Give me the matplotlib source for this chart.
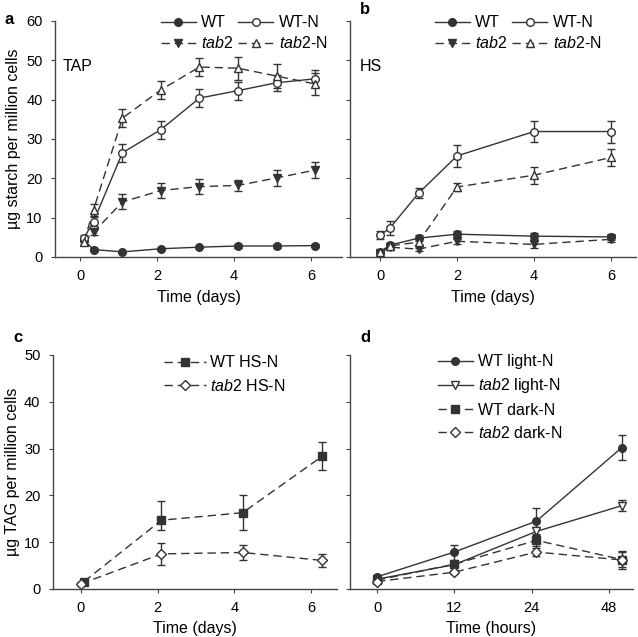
import numpy as np
import matplotlib
matplotlib.use('Agg')
import matplotlib.pyplot as plt

plt.rcParams['font.family'] = ['Liberation Sans', 'DejaVu Sans']
plt.rcParams['mathtext.fontset'] = 'custom'
plt.rcParams['mathtext.it'] = 'Liberation Sans:italic'
plt.rcParams['mathtext.rm'] = 'Liberation Sans'
plt.rcParams['font.size'] = 10

# Panel a (TAP) - starch
a_x = [0.1, 0.35, 1.1, 2.1, 3.1, 4.1, 5.1, 6.1]
a_wt = [4.3, 1.9, 1.3, 2.1, 2.5, 2.8, 2.8, 2.9]
a_wt_err = [0.5, 0.4, 0.3, 0.3, 0.3, 0.4, 0.4, 0.4]
a_wtn = [4.8, 9.0, 26.5, 32.4, 40.4, 42.3, 44.3, 45.3]
a_wtn_err = [0.8, 1.2, 2.3, 2.3, 2.3, 2.3, 2.0, 2.2]
a_tab2 = [3.7, 6.3, 14.0, 16.9, 17.9, 18.2, 20.1, 22.1]
a_tab2_err = [0.6, 0.8, 1.9, 1.9, 1.9, 1.3, 2.0, 2.0]
a_tab2n = [3.8, 12.0, 35.3, 42.5, 48.3, 48.0, 46.0, 44.0]
a_tab2n_err = [0.8, 1.6, 2.3, 2.3, 2.3, 2.9, 3.0, 2.9]

# Panel b (HS) - starch
b_x = [0, 0.25, 1, 2, 4, 6]
b_wt = [1.2, 3.0, 4.8, 5.8, 5.3, 5.1]
b_wt_err = [0.4, 0.6, 0.7, 0.7, 0.7, 0.7]
b_wtn = [5.5, 7.3, 16.2, 25.7, 31.9, 31.9]
b_wtn_err = [1.0, 1.8, 1.3, 2.8, 2.6, 2.8]
b_tab2 = [1.1, 2.5, 2.0, 4.0, 3.2, 4.5]
b_tab2_err = [0.3, 0.8, 0.4, 0.6, 1.0, 0.8]
b_tab2n = [1.3, 2.8, 3.8, 17.8, 20.8, 25.3]
b_tab2n_err = [0.4, 0.8, 0.8, 1.0, 2.2, 2.2]

# Panel c - TAG, HS-N
c_x_wt = [0.08, 2.1, 4.22, 6.3]
c_x_tab2 = [0.0, 2.1, 4.22, 6.3]
c_wt = [1.6, 14.7, 16.3, 28.4]
c_wt_lo = [0.5, 2.0, 3.7, 3.0]
c_wt_hi = [0.5, 4.2, 3.7, 3.0]
c_tab2 = [1.1, 7.5, 7.8, 6.1]
c_tab2_err = [0.4, 2.3, 1.7, 1.3]

# Panel d - TAG, light/dark
d_hours = [0, 12, 25.5, 52]
d_ticks = [0, 12, 24, 48]
d_wt_light = [2.6, 7.9, 14.5, 30.2]
d_wt_light_err = [0.4, 1.6, 2.8, 2.6]
d_tab2_light = [2.1, 5.2, 12.3, 17.8]
d_tab2_light_err = [0.3, 0.6, 1.0, 1.2]
d_wt_dark = [1.9, 5.3, 10.4, 6.3]
d_wt_dark_err = [0.3, 0.6, 1.2, 1.5]
d_tab2_dark = [1.6, 3.6, 7.9, 6.2]
d_tab2_dark_err = [0.3, 0.5, 0.8, 2.0]

col = '#333333'
dash = (0, (6, 3.5))
tick_fs = 10.5
label_fs = 11.5
leg_fs = 11.5

fig = plt.figure(figsize=(6.38, 6.37), dpi=100)
W, H = 638, 637


def make_ax(x0, x1, ytop, ybot):
    ax = fig.add_axes([x0 / W, 1 - ybot / H, (x1 - x0) / W, (ybot - ytop) / H])
    for s in ['top', 'right']:
        ax.spines[s].set_visible(False)
    for s in ['left', 'bottom']:
        ax.spines[s].set_color('#444444')
        ax.spines[s].set_linewidth(1.0)
    ax.tick_params(direction='out', length=3, width=0.8, color='#444444', labelsize=tick_fs, pad=6)
    return ax


def series(ax, x, y, err, marker, filled, ls, label, ms=5.5):
    fc = col if filled else 'white'
    ax.errorbar(x, y, yerr=err, color=col, ls=ls, lw=1.0, marker=marker, ms=ms,
                mfc=fc, mec=col, mew=1.0, capsize=3, elinewidth=1.0, capthick=1.0,
                label=label)


def clean_legend(ax, **kw):
    h, l = ax.get_legend_handles_labels()
    h = [hh[0] for hh in h]
    leg = ax.legend(h, l, frameon=False, fontsize=leg_fs, **kw)
    return leg


# ---- a ----
ax = make_ax(55, 342, 21, 257)
series(ax, a_x, a_wt, a_wt_err, 'o', True, '-', 'WT')
series(ax, a_x, a_tab2, a_tab2_err, 'v', True, dash, '$\\it{tab2}$')
series(ax, a_x, a_wtn, a_wtn_err, 'o', False, '-', 'WT-N')
series(ax, a_x, a_tab2n, a_tab2n_err, '^', False, dash, '$\\it{tab2}$-N')
ax.set_xlim(-0.65, 6.8)
ax.set_ylim(0, 60)
ax.set_xticks([0, 2, 4, 6])
ax.set_yticks(range(0, 61, 10))
ax.set_xlabel('Time (days)', fontsize=label_fs, labelpad=5)
ax.set_ylabel('µg starch per million cells', fontsize=label_fs, labelpad=4)
ax.text(0.025, 0.79, 'TAP', transform=ax.transAxes, fontsize=label_fs)
clean_legend(ax, ncol=2, loc='upper right', bbox_to_anchor=(1.0, 1.085),
             handlelength=2.2, handletextpad=0.35, columnspacing=0.3, labelspacing=0.3)
fig.text(5 / W, 1 - 20 / H, 'a', fontsize=12, fontweight='bold', va='center')

# ---- b ----
ax = make_ax(350, 636, 21, 257)
series(ax, b_x, b_wt, b_wt_err, 'o', True, '-', 'WT')
series(ax, b_x, b_tab2, b_tab2_err, 'v', True, dash, '$\\it{tab2}$')
series(ax, b_x, b_wtn, b_wtn_err, 'o', False, '-', 'WT-N')
series(ax, b_x, b_tab2n, b_tab2n_err, '^', False, dash, '$\\it{tab2}$-N')
ax.set_xlim(-0.78, 6.65)
ax.set_ylim(0, 60)
ax.set_xticks([0, 2, 4, 6])
ax.set_yticks(range(0, 61, 10))
ax.set_yticklabels([])
ax.set_xlabel('Time (days)', fontsize=label_fs, labelpad=5)
ax.text(0.035, 0.79, 'HS', transform=ax.transAxes, fontsize=label_fs)
clean_legend(ax, ncol=2, loc='upper right', bbox_to_anchor=(0.93, 1.085),
             handlelength=2.2, handletextpad=0.35, columnspacing=0.3, labelspacing=0.3)
fig.text(360 / W, 1 - 10 / H, 'b', fontsize=12, fontweight='bold', va='center')

# ---- c ----
ax = make_ax(53, 337, 355, 589)
series(ax, c_x_wt, c_wt, [c_wt_lo, c_wt_hi], 's', True, dash, 'WT HS-N')
series(ax, c_x_tab2, c_tab2, c_tab2_err, 'D', False, dash, '$\\it{tab2}$ HS-N', ms=5)
ax.set_xlim(-0.73, 6.68)
ax.set_ylim(0, 50)
ax.set_xticks([0, 2, 4, 6])
ax.set_yticks(range(0, 51, 10))
ax.set_xlabel('Time (days)', fontsize=label_fs, labelpad=4)
ax.set_ylabel('µg TAG per million cells', fontsize=label_fs, labelpad=3)
clean_legend(ax, loc='upper right', bbox_to_anchor=(0.87, 1.06),
             handlelength=2.6, handletextpad=0.3, labelspacing=0.45)
fig.text(13 / W, 1 - 338 / H, 'c', fontsize=12, fontweight='bold', va='center')

# ---- d ----
def fwd(h):
    h = np.asarray(h, dtype=float)
    return np.where(h <= 24, h / 12.0, 2 + (h - 24) / 24.0)


def inv(p):
    p = np.asarray(p, dtype=float)
    return np.where(p <= 2, p * 12.0, 24 + (p - 2) * 24.0)


ax = make_ax(350, 633, 355, 589)
ax.set_xscale('function', functions=(fwd, inv))
series(ax, d_hours, d_wt_light, d_wt_light_err, 'o', True, '-', 'WT light-N')
series(ax, d_hours, d_tab2_light, d_tab2_light_err, 'v', False, '-', '$\\it{tab2}$ light-N')
series(ax, d_hours, d_wt_dark, d_wt_dark_err, 's', True, dash, 'WT dark-N')
series(ax, d_hours, d_tab2_dark, d_tab2_dark_err, 'D', False, dash, '$\\it{tab2}$ dark-N', ms=5)
ax.set_xlim(-4.2, 55.5)
ax.set_ylim(0, 50)
ax.set_xticks(d_ticks)
ax.set_xticklabels([str(t) for t in d_ticks])
ax.xaxis.set_minor_locator(matplotlib.ticker.NullLocator())
ax.set_yticks(range(0, 51, 10))
ax.set_yticklabels([])
ax.set_xlabel('Time (hours)', fontsize=label_fs, labelpad=4)
clean_legend(ax, loc='upper right', bbox_to_anchor=(0.80, 1.065),
             handlelength=2.2, handletextpad=0.3, labelspacing=0.45)
fig.text(360 / W, 1 - 338 / H, 'd', fontsize=12, fontweight='bold', va='center')

fig.savefig('out.png', dpi=100)
